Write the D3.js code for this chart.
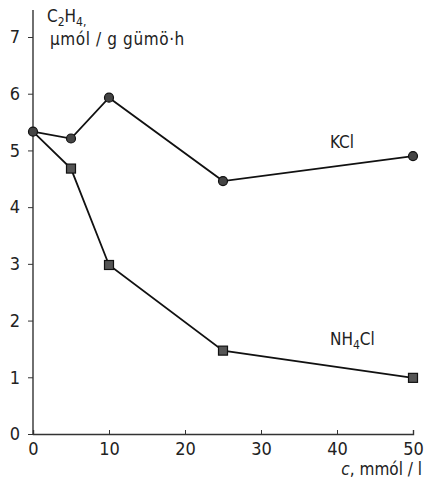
<!DOCTYPE html>
<html>
<head>
<meta charset="utf-8">
<title>C2H4</title>
<style>
  body { margin: 0; background: #fff; }
  text { font-family: "DejaVu Sans Condensed", "DejaVu Sans", sans-serif; fill: #222; }
</style>
</head>
<body>
<svg id="viz" width="425" height="480"></svg>
<script src="https://cdn.jsdelivr.net/npm/d3@7"></script>
<script>
// concentracio (mmol/l)
var conc = [0, 5, 10, 25, 50];
var kcl = [5.33, 5.21, 5.93, 4.46, 4.9];
var nh4cl = [5.33, 4.68, 2.98, 1.47, 0.99];
var xTicks = [0, 10, 20, 30, 40, 50];
var yTicks = [0, 1, 2, 3, 4, 5, 6, 7];

var svg = d3.select("#viz");
var fam = '"DejaVu Sans Condensed", "DejaVu Sans", sans-serif';

var x = d3.scaleLinear().domain([0, 50]).range([33, 413]);
var y = d3.scaleLinear().domain([0, 7]).range([434, 37]);

// tengelyek
var ax = svg.append("g").attr("transform", "translate(0," + y(0) + ")")
  .call(d3.axisBottom(x).tickValues(xTicks).tickSize(-4).tickPadding(7).tickFormat(d3.format("d")));
ax.select(".domain").attr("stroke", "#333").attr("stroke-width", 1.4);
ax.selectAll(".tick line").attr("stroke", "#333");
ax.selectAll(".tick text").attr("font-size", 18).attr("dy", "0.8em").style("font-family", fam).attr("fill", "#222");

var ay = svg.append("g").attr("transform", "translate(" + x(0) + ",0)")
  .call(d3.axisLeft(y).tickValues(yTicks).tickSize(5).tickPadding(8).tickFormat(d3.format("d")));
ay.select(".domain").attr("d", "M0," + y(0) + "V10").attr("stroke", "#333").attr("stroke-width", 1.4);
ay.selectAll(".tick line").attr("stroke", "#333");
ay.selectAll(".tick text").attr("font-size", 18).style("font-family", fam).attr("fill", "#222");

// vonalak
var line = d3.line().x(function(d, i) { return x(conc[i]); }).y(function(d) { return y(d); });

[kcl, nh4cl].forEach(function(s) {
  svg.append("path").datum(s).attr("d", line)
    .attr("fill", "none").attr("stroke", "#111").attr("stroke-width", 1.8);
});

svg.selectAll("circle.kcl").data(kcl).enter().append("circle")
  .attr("class", "kcl")
  .attr("cx", function(d, i) { return x(conc[i]); })
  .attr("cy", function(d) { return y(d); })
  .attr("r", 4.5).attr("fill", "#444").attr("stroke", "#111").attr("stroke-width", 1.2);

svg.selectAll("rect.nh").data(nh4cl).enter().filter(function(d, i) { return i > 0; }).append("rect")
  .attr("class", "nh")
  .attr("x", function(d) { return x(conc[nh4cl.indexOf(d)]) - 4.5; })
  .attr("y", function(d) { return y(d) - 4.5; })
  .attr("width", 9).attr("height", 9)
  .attr("fill", "#555").attr("stroke", "#111").attr("stroke-width", 1.2);

// feliratok
svg.append("text").attr("x", 330).attr("y", 148).attr("font-size", 17).text("KCl");
var nh = svg.append("text").attr("x", 330).attr("y", 345).attr("font-size", 17);
nh.append("tspan").text("NH");
nh.append("tspan").attr("font-size", 12).attr("dy", 4).text("4");
nh.append("tspan").attr("dy", -4).text("Cl");

var t1 = svg.append("text").attr("x", 47).attr("y", 22).attr("font-size", 17);
t1.append("tspan").text("C");
t1.append("tspan").attr("font-size", 12).attr("dy", 4).text("2");
t1.append("tspan").attr("dy", -4).text("H");
t1.append("tspan").attr("font-size", 12).attr("dy", 4).text("4,");
svg.append("text").attr("x", 50).attr("y", 45).attr("font-size", 17).attr("letter-spacing", 0.6).text("µmól / g gümö·h");

var xl = svg.append("text").attr("x", 422).attr("y", 475).attr("font-size", 17).attr("text-anchor", "end");
xl.append("tspan").attr("font-style", "italic").text("c");
xl.append("tspan").text(", mmól / l");
</script>
</body>
</html>
